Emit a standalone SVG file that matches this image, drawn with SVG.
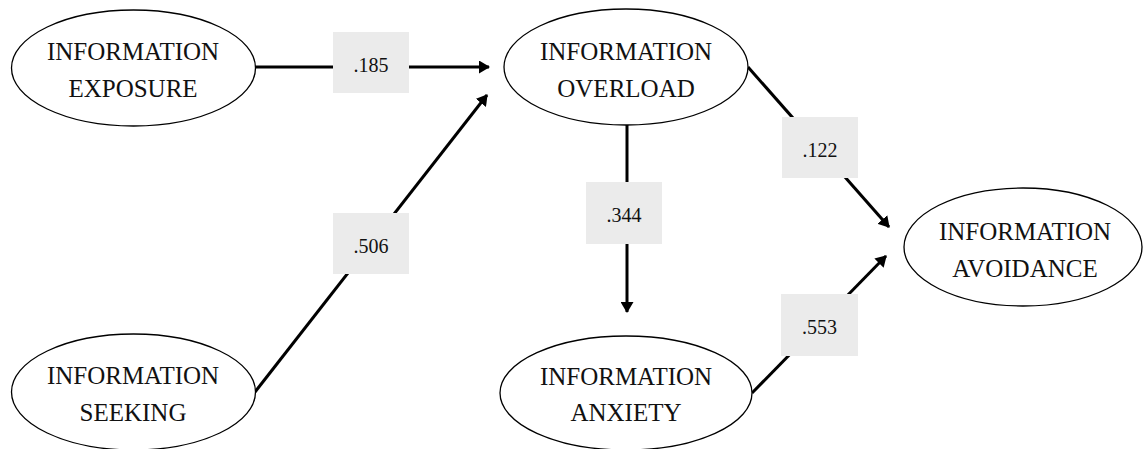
<svg xmlns="http://www.w3.org/2000/svg" width="1143" height="449" viewBox="0 0 1143 449">
<style>
.node{fill:#fff;stroke:#000;stroke-width:1.3}
.nt{font-family:'Liberation Serif','Times New Roman',serif;font-size:25px;fill:#111;text-anchor:middle}
.conn{stroke:#000;stroke-width:3;fill:none;marker-end:url(#ah)}
.lb{fill:#ebebeb}
.lt{font-family:'Liberation Serif','Times New Roman',serif;font-size:20px;fill:#111;text-anchor:middle}
</style>
<defs>
<marker id="ah" viewBox="0 0 11 13" refX="10" refY="6.5" markerWidth="11" markerHeight="13" markerUnits="userSpaceOnUse" orient="auto">
<path d="M0,0 L11,6.5 L0,13 Z" fill="#000"/>
</marker>
</defs>
<rect width="1143" height="449" fill="#fff"/>
<g id="connectors">
<line class="conn" x1="255" y1="67" x2="489" y2="67"/>
<line class="conn" x1="255" y1="392" x2="487" y2="95"/>
<line class="conn" x1="627" y1="125" x2="627" y2="312"/>
<line class="conn" x1="748" y1="67" x2="889" y2="227"/>
<line class="conn" x1="752" y1="393" x2="886" y2="256"/>
</g>
<g id="labels">
<rect class="lb" x="333" y="32" width="76" height="61"/><text class="lt" x="371" y="72">.185</text>
<rect class="lb" x="333" y="213" width="76" height="61"/><text class="lt" x="371" y="253">.506</text>
<rect class="lb" x="586" y="182" width="76" height="62"/><text class="lt" x="624" y="222">.344</text>
<rect class="lb" x="782" y="117" width="76" height="61"/><text class="lt" x="820" y="157">.122</text>
<rect class="lb" x="781" y="294" width="77" height="62"/><text class="lt" x="819.5" y="334">.553</text>
</g>
<g id="exposure">
<ellipse class="node" cx="133.5" cy="68" rx="122" ry="58"/>
<text class="nt" x="133" y="60">INFORMATION</text>
<text class="nt" x="133" y="97">EXPOSURE</text>
</g>
<g id="seeking">
<ellipse class="node" cx="133.5" cy="392" rx="122" ry="58"/>
<text class="nt" x="133" y="384">INFORMATION</text>
<text class="nt" x="133" y="421">SEEKING</text>
</g>
<g id="overload">
<ellipse class="node" cx="626" cy="67" rx="122" ry="58"/>
<text class="nt" x="626" y="60">INFORMATION</text>
<text class="nt" x="626" y="97">OVERLOAD</text>
</g>
<g id="anxiety">
<ellipse class="node" cx="626" cy="393" rx="126" ry="57"/>
<text class="nt" x="626" y="385">INFORMATION</text>
<text class="nt" x="626" y="421">ANXIETY</text>
</g>
<g id="avoidance">
<ellipse class="node" cx="1023" cy="247" rx="119" ry="59"/>
<text class="nt" x="1025" y="240">INFORMATION</text>
<text class="nt" x="1025" y="277">AVOIDANCE</text>
</g>
</svg>
